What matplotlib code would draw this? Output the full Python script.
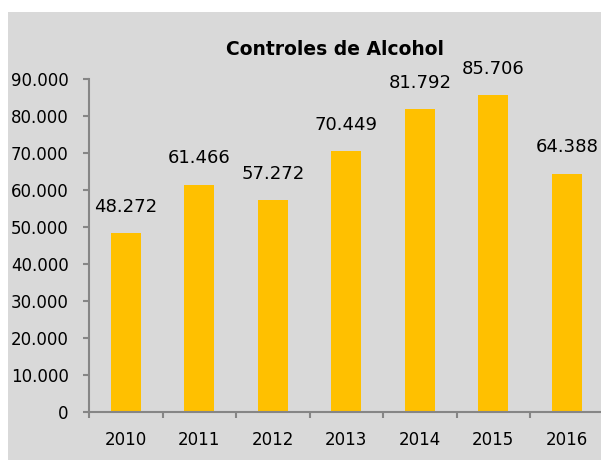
import matplotlib
matplotlib.use("Agg")
import matplotlib.pyplot as plt
from matplotlib.patches import Rectangle
from matplotlib.ticker import FixedLocator, FuncFormatter

years = ["2010", "2011", "2012", "2013", "2014", "2015", "2016"]
values = [48272, 61466, 57272, 70449, 81792, 85706, 64388]
title = "Controles de Alcohol"
yticks = [0, 10000, 20000, 30000, 40000, 50000, 60000, 70000, 80000, 90000]

W, H = 601, 461
fig = plt.figure(figsize=(W / 100, H / 100), dpi=100, facecolor="white")

# gray chart-area background
fig.patches.append(Rectangle((8 / W, 1 - 460 / H), 1 - 8 / W, (460 - 12) / H,
                             transform=fig.transFigure, facecolor="#D9D9D9",
                             edgecolor="none", zorder=-10))

ax_left, ax_right = 89 / W, 603.5 / W
ax_bottom, ax_top = 1 - 412 / H, 1 - 79 / H
ax = fig.add_axes([ax_left, ax_bottom, ax_right - ax_left, ax_top - ax_bottom])
ax.set_facecolor("none")
ax.set_zorder(1)

x = list(range(len(years)))
bars = ax.bar(x, values, width=0.41, color="#FFC000", zorder=2)

ax.set_xlim(-0.5, len(years) - 0.5)
ax.set_ylim(0, 90000)

spine_color = "#868686"
for s in ["top", "right"]:
    ax.spines[s].set_visible(False)
for s in ["left", "bottom"]:
    ax.spines[s].set_color(spine_color)
    ax.spines[s].set_linewidth(1.5)

ax.yaxis.set_major_locator(FixedLocator(yticks))
ax.yaxis.set_major_formatter(FuncFormatter(lambda v, p: f"{int(v):,}".replace(",", ".")))
ax.tick_params(axis="y", direction="out", length=4.5, width=1.5, color=spine_color,
               labelsize=12, pad=10, labelcolor="black")

ax.set_xticks(x)
ax.set_xticklabels(years)
ax.set_xticks([i - 0.5 for i in range(len(years) + 1)], minor=True)
ax.tick_params(axis="x", which="major", length=0, labelsize=12, pad=13.5, labelcolor="black")
ax.tick_params(axis="x", which="minor", direction="out", length=4.5, width=1.5,
               color=spine_color)

for xi, v in zip(x, values):
    ax.annotate(f"{v:,}".replace(",", "."), (xi, v), xytext=(0, 12.5),
                textcoords="offset points", ha="center", va="bottom",
                fontsize=13, color="black", annotation_clip=False)

fig.text(335.5 / W, 1 - 55 / H, title, ha="center", va="baseline",
         fontsize=13.5, fontweight="bold", color="black")

fig.savefig("out.png", dpi=100, facecolor="white")
